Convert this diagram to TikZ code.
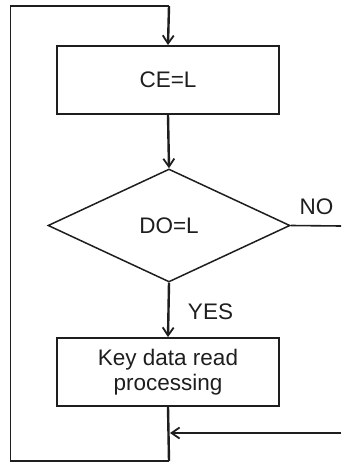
\documentclass[tikz,border=0pt]{standalone}
\usepackage{fontspec}
\setmainfont{Liberation Sans}
\usetikzlibrary{shapes.geometric,arrows.meta}
\definecolor{ink}{HTML}{1E1E1E}
\begin{document}
\begin{tikzpicture}[x=1pt,y=-1pt,
  every node/.style={font=\fontsize{22.5}{25}\selectfont, text=ink},
  procbox/.style={draw=ink, line width=1.9pt, minimum width=222pt, minimum height=68pt, inner sep=0pt, align=center},
  decide/.style={draw=ink, line width=1.5pt, shape=diamond, minimum width=242pt, minimum height=113pt, inner sep=0pt},
  flow/.style={draw=ink, line width=2.4pt},
  thin/.style={draw=ink, line width=1.6pt},
  tip/.style={-{Straight Barb[length=8pt,width=11pt,line width=1.8pt]}},
  lbl/.style={inner sep=0pt}]
\useasboundingbox (0,0) rectangle (341,462);
\node[procbox] (ce) at (168,80) {CE=L};
\node[decide] (do) at (169,225.5) {DO=L};
\node[procbox] (key) at (168,372) {Key data read\\processing};
\coordinate (tr) at (169,6);
\coordinate (tl) at (10.5,6);
\coordinate (bl) at (10.5,461);
\coordinate (br) at (169,461);
\coordinate (noend) at (341,226);
\coordinate (inR) at (341,433);
\coordinate (inL) at (170,433);
\node[lbl] (no) at (316.5,207) {NO};
\node[lbl] (yes) at (210.5,311.5) {YES};
% loop back
\draw[thin] (br) -- (bl) -- (tl) -- (tr);
\draw[flow,tip] (tr) -- (ce.north);
\draw[flow,tip] (ce.south) -- (do.north);
\draw[thin] (do.east) -- (noend);
\draw[flow,tip] (do.south) -- (key.north);
\draw[flow] (key.south) -- (br);
\draw[flow,tip] (inR) -- (inL);
\end{tikzpicture}
\end{document}
